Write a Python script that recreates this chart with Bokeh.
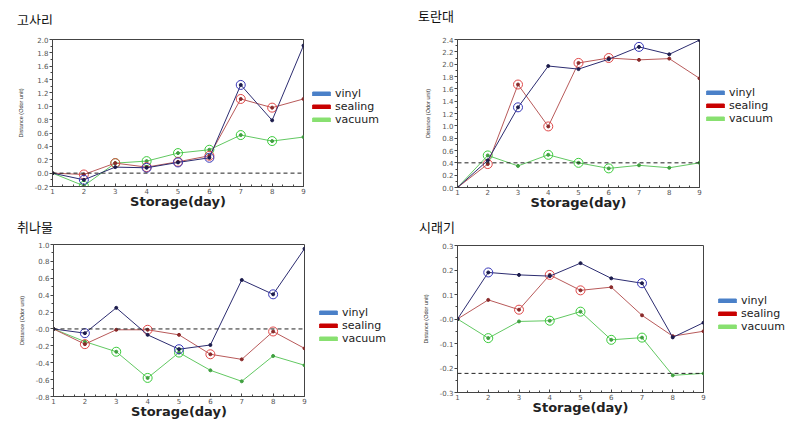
from bokeh.plotting import figure
from bokeh.models import Range1d, FixedTicker, Legend, LegendItem, Span, Div
from bokeh.layouts import row, column
from bokeh.embed import file_html
from bokeh.resources import INLINE

days = [1, 2, 3, 4, 5, 6, 7, 8, 9]
series_names = ["vinyl", "sealing", "vacuum"]
titles = ["고사리", "토란대", "취나물", "시래기"]
x_label = "Storage(day)"
y_label = "Distance (Odor unit)"

# 고사리
gosari_vinyl = [0.0, -0.10, 0.09, 0.08, 0.16, 0.23, 1.32, 0.79, 1.91]
gosari_sealing = [0.0, -0.02, 0.15, 0.09, 0.17, 0.26, 1.11, 0.98, 1.11]
gosari_vacuum = [0.0, -0.19, 0.15, 0.18, 0.30, 0.35, 0.57, 0.48, 0.54]
gosari_sig_vinyl = [0, 1, 0, 1, 1, 1, 1, 0, 0]
gosari_sig_sealing = [0, 1, 1, 1, 1, 1, 1, 1, 0]
gosari_sig_vacuum = [0, 1, 1, 1, 1, 1, 1, 1, 0]
gosari_ref = 0.0
gosari_yticks = [-0.2, 0.0, 0.2, 0.4, 0.6, 0.8, 1.0, 1.2, 1.4, 1.6, 1.8, 2.0]

# 토란대
toran_vinyl = [0.0, 0.44, 1.30, 1.97, 1.92, 2.08, 2.28, 2.16, 2.39]
toran_sealing = [0.0, 0.38, 1.67, 0.99, 2.02, 2.10, 2.07, 2.09, 1.77]
toran_vacuum = [0.0, 0.52, 0.35, 0.53, 0.40, 0.31, 0.36, 0.32, 0.40]
toran_sig_vinyl = [0, 0, 1, 0, 0, 0, 1, 0, 0]
toran_sig_sealing = [0, 1, 1, 1, 1, 1, 0, 0, 0]
toran_sig_vacuum = [0, 1, 0, 1, 1, 1, 0, 0, 0]
toran_ref = 0.40
toran_yticks = [0.0, 0.2, 0.4, 0.6, 0.8, 1.0, 1.2, 1.4, 1.6, 1.8, 2.0, 2.2, 2.4]

# 취나물
chwi_vinyl = [0.0, -0.05, 0.25, -0.07, -0.24, -0.19, 0.58, 0.41, 0.95]
chwi_sealing = [0.0, -0.18, -0.01, -0.01, -0.07, -0.30, -0.36, -0.03, -0.23]
chwi_vacuum = [0.0, -0.15, -0.27, -0.58, -0.28, -0.49, -0.62, -0.32, -0.43]
chwi_sig_vinyl = [0, 1, 0, 0, 1, 0, 0, 1, 0]
chwi_sig_sealing = [0, 1, 0, 1, 0, 1, 0, 1, 0]
chwi_sig_vacuum = [0, 0, 1, 1, 1, 0, 0, 0, 0]
chwi_ref = 0.0
chwi_yticks = [-0.8, -0.6, -0.4, -0.2, 0.0, 0.2, 0.4, 0.6, 0.8, 1.0]

# 시래기
sirae_vinyl = [0.0, 0.19, 0.18, 0.175, 0.228, 0.166, 0.146, -0.075, -0.015]
sirae_sealing = [0.0, 0.078, 0.038, 0.18, 0.117, 0.13, 0.015, -0.07, -0.05]
sirae_vacuum = [0.0, -0.078, -0.01, -0.007, 0.03, -0.085, -0.076, -0.23, -0.222]
sirae_sig_vinyl = [0, 1, 0, 0, 0, 0, 1, 0, 0]
sirae_sig_sealing = [0, 0, 1, 1, 1, 0, 0, 0, 0]
sirae_sig_vacuum = [0, 1, 0, 1, 1, 1, 1, 0, 0]
sirae_ref = -0.222
sirae_yticks = [-0.3, -0.2, -0.1, 0.0, 0.1, 0.2, 0.3]

LINE_COLORS = ["#2c2c70", "#b85a5a", "#62c862"]
CIRCLE_COLORS = ["#3838b8", "#e04848", "#3ccc3c"]
DOT_COLORS = ["#1c1c4c", "#8a2a2a", "#40a040"]
SWATCH_COLORS = ["#4a80c8", "#c80000", "#88e070"]

TITLE_H = 24
BORDER_R = 3
NAN = float("nan")


def make_panel(title, vals, sigs, yticks, ref, zero_label, geom):
    w, h, bl, fw, bt, bb, leg_xy, title_pos = geom
    ylo, yhi = yticks[0], yticks[-1]
    fh = h - TITLE_H
    mw = bl + fw + BORDER_R
    p = figure(width=mw, height=fh, x_range=Range1d(1, 9), y_range=Range1d(ylo, yhi),
               output_backend="svg", toolbar_location=None,
               min_border_left=bl, min_border_right=BORDER_R,
               min_border_top=bt - TITLE_H, min_border_bottom=bb)
    p.grid.visible = False
    p.outline_line_color = "#444444"
    p.outline_line_width = 1
    p.background_fill_color = "white"
    p.border_fill_color = "white"

    step = yticks[1] - yticks[0]
    minor = [yticks[0] + step / 2 * i for i in range(2 * (len(yticks) - 1) + 1)]
    p.yaxis.ticker = FixedTicker(ticks=yticks, minor_ticks=minor)
    overrides = {}
    for t in yticks:
        overrides[t] = "%.1f" % t
    overrides[0.0] = zero_label
    p.yaxis.major_label_overrides = overrides
    xminor = [1 + i / 3 for i in range(25)]
    p.xaxis.ticker = FixedTicker(ticks=days, minor_ticks=xminor)

    for ax in (p.xaxis, p.yaxis):
        ax.axis_line_color = "#444444"
        ax.major_tick_line_color = "#444444"
        ax.minor_tick_line_color = "#444444"
        ax.major_label_text_font = "DejaVu Sans"
        ax.major_label_text_font_size = "7px"
        ax.major_label_text_color = "#555555"
    p.xaxis.major_tick_in = 3
    p.xaxis.major_tick_out = 0
    p.xaxis.minor_tick_in = 2
    p.xaxis.minor_tick_out = 0
    p.xaxis.major_label_standoff = 1
    p.yaxis.major_tick_in = 0
    p.yaxis.major_tick_out = 3
    p.yaxis.minor_tick_in = 0
    p.yaxis.minor_tick_out = 2
    p.yaxis.major_label_standoff = 1

    p.xaxis.axis_label = x_label
    p.xaxis.axis_label_text_font = "DejaVu Sans"
    p.xaxis.axis_label_text_font_style = "bold"
    p.xaxis.axis_label_text_font_size = "13px"
    p.xaxis.axis_label_text_color = "#222222"
    p.xaxis.axis_label_standoff = -3
    p.yaxis.axis_label = y_label
    p.yaxis.axis_label_text_font = "Liberation Sans"
    p.yaxis.axis_label_text_font_style = "normal"
    p.yaxis.axis_label_text_font_size = "5.5px"
    p.yaxis.axis_label_text_color = "#333333"
    p.yaxis.axis_label_standoff = 8

    p.add_layout(Span(location=ref, dimension="width", line_dash="4 3",
                      line_color="#222222", line_width=1))

    for i in (2, 1, 0):
        v = vals[i]
        p.line(days, v, line_color=LINE_COLORS[i], line_width=1)
        p.scatter(days, v, size=3, marker="circle", fill_color=DOT_COLORS[i],
                  line_color=DOT_COLORS[i])
        cx = [d for d, s in zip(days, sigs[i]) if s]
        cy = [y for y, s in zip(v, sigs[i]) if s]
        p.scatter(cx, cy, size=9, marker="circle", fill_color=None,
                  line_color=CIRCLE_COLORS[i], line_width=1)

    # legend lives in a small companion figure to the right of the plot frame
    q = figure(width=w - mw, height=fh, x_range=Range1d(0, 1), y_range=Range1d(0, 1),
               output_backend="svg", toolbar_location=None,
               x_axis_type=None, y_axis_type=None, min_border=0)
    q.grid.visible = False
    q.outline_line_color = None
    q.background_fill_color = "white"
    q.border_fill_color = "white"
    items = []
    for i, name in enumerate(series_names):
        r = q.quad(left=[NAN], right=[NAN], top=[NAN], bottom=[NAN],
                   fill_color=SWATCH_COLORS[i], line_color=SWATCH_COLORS[i])
        items.append(LegendItem(label=name, renderers=[r]))
    leg = Legend(items=items, location=leg_xy, glyph_width=22, glyph_height=5,
                 label_text_font="DejaVu Sans", label_text_font_size="11px",
                 label_text_line_height=0.85,
                 label_text_color="#222222", label_standoff=3, label_height=10,
                 spacing=0, padding=0, margin=0, border_line_color=None,
                 background_fill_alpha=0)
    q.add_layout(leg, "center")

    tx, ty = title_pos
    d = Div(text=title, width=w, height=TITLE_H, margin=(0, 0, 0, 0),
            styles={"font-family": "'Noto Sans CJK KR', sans-serif",
                    "font-size": "13px", "line-height": "13px",
                    "color": "#111111",
                    "padding-left": "%dpx" % tx,
                    "padding-top": "%dpx" % ty,
                    "box-sizing": "border-box"})
    return column(d, row(p, q, spacing=0), spacing=0)


p1 = make_panel(titles[0], [gosari_vinyl, gosari_sealing, gosari_vacuum],
                [gosari_sig_vinyl, gosari_sig_sealing, gosari_sig_vacuum],
                gosari_yticks, gosari_ref, "0.0",
                (400, 212, 52, 251, 39, 26, (4, 60), (17, 13)))
p2 = make_panel(titles[1], [toran_vinyl, toran_sealing, toran_vacuum],
                [toran_sig_vinyl, toran_sig_sealing, toran_sig_vacuum],
                toran_yticks, toran_ref, "0.0",
                (392, 212, 57, 242, 39, 25, (2, 62), (18, 9)))
p3 = make_panel(titles[2], [chwi_vinyl, chwi_sealing, chwi_vacuum],
                [chwi_sig_vinyl, chwi_sig_sealing, chwi_sig_vacuum],
                chwi_yticks, chwi_ref, "-0.0",
                (400, 212, 53, 251, 32, 28, (10, 51), (17, 8)))
p4 = make_panel(titles[3], [sirae_vinyl, sirae_sealing, sirae_vacuum],
                [sirae_sig_vinyl, sirae_sig_sealing, sirae_sig_vacuum],
                sirae_yticks, sirae_ref, "-0.0",
                (392, 212, 57, 246, 33, 32, (10, 59), (19, 8)))

layout = column(row(p1, p2, spacing=0), row(p3, p4, spacing=0), spacing=0)
open("out.html", "w").write(file_html(layout, INLINE))
